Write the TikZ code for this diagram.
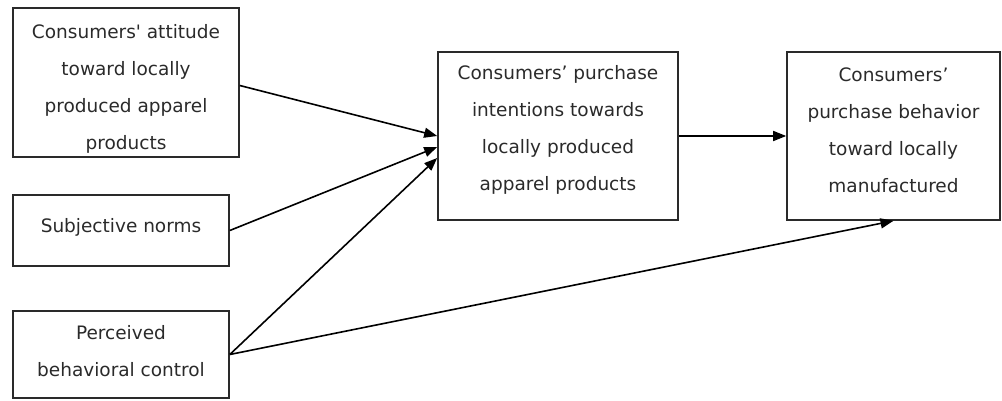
\documentclass[tikz,border=0pt]{standalone}
\usepackage{fontspec}
\setmainfont{DejaVu Sans}
\usetikzlibrary{arrows.meta}
\definecolor{ink}{HTML}{2A2A2A}
\tikzset{
  box/.style={draw=ink, line width=1.6pt, rectangle, inner sep=0pt},
  txt/.style={align=center, text=ink, inner sep=0pt, font=\fontsize{18.5}{37}\selectfont},
  conn/.style={draw=black, line width=1.6pt, -{Triangle[length=13pt,width=10pt]}}
}
\begin{document}
\begin{tikzpicture}[x=1pt,y=-1pt]
\useasboundingbox (0,0) rectangle (1002,401);
% boxes
\node[box, minimum width=226pt, minimum height=149pt] (A) at (126,82.5) {};
\node[box, minimum width=216pt, minimum height=71pt] (B) at (121,230.5) {};
\node[box, minimum width=216pt, minimum height=87pt] (C) at (121,354.5) {};
\node[box, minimum width=240pt, minimum height=168pt] (D) at (558,136) {};
\node[box, minimum width=213pt, minimum height=168pt] (E) at (893.5,136) {};
% texts
\node[txt] (At) at (126,88.5) {Consumers\textquotesingle{} attitude\\toward locally\\produced apparel\\products};
\node[txt] (Bt) at (121,227) {Subjective norms};
\node[txt] (Ct) at (121,351.5) {Perceived\\behavioral control};
\node[txt] (Dt) at (558,130) {Consumers' purchase\\intentions towards\\locally produced\\apparel products};
\node[txt] (Et) at (893.5,130) {Consumers'\\purchase behavior\\toward locally\\manufactured};
% connectors
\draw[conn] ([yshift=-3pt]A.east) -- (D.west);
\draw[conn] (B.east) -- ([yshift=-11pt]D.west);
\draw[conn] (C.east) -- ([yshift=-22pt]D.west);
\draw[conn] (D.east) -- (E.west);
\draw[conn] (C.east) -- (E.south);
\end{tikzpicture}
\end{document}
